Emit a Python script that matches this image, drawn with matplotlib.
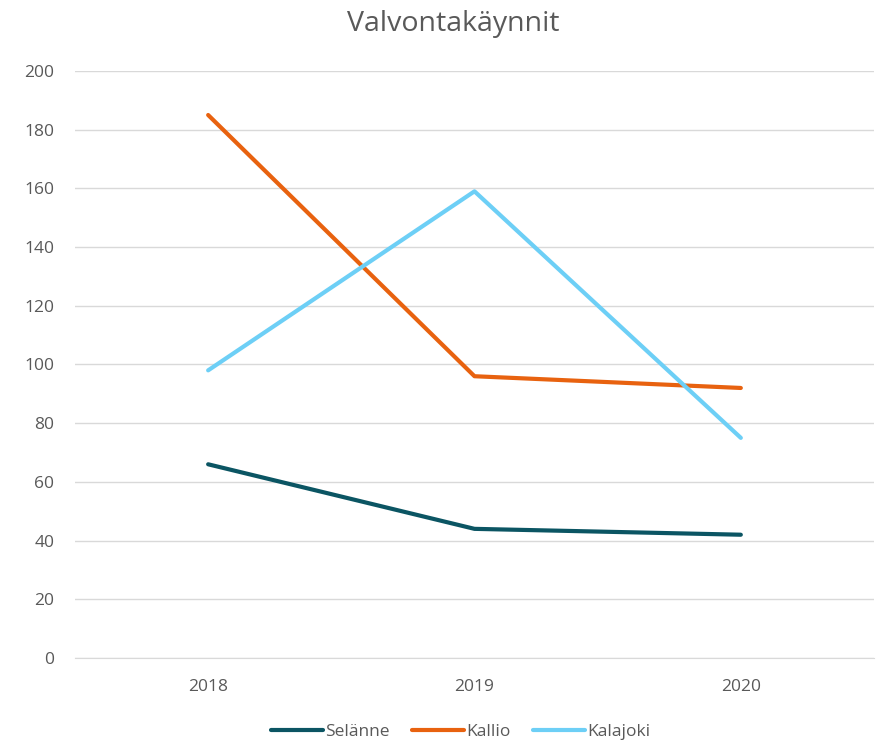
import matplotlib.pyplot as plt

plt.rcParams['font.family'] = ['Open Sans', 'DejaVu Sans']

years = ['2018', '2019', '2020']
selanne = [66, 44, 42]
kallio = [185, 96, 92]
kalajoki = [98, 159, 75]

fig = plt.figure(figsize=(8.79, 7.44), dpi=100)
ax = fig.add_axes([0.0853, 0.1156, 0.909, 0.789])

x = range(len(years))
ax.plot(x, selanne, color='#0b5563', lw=3, label='Selänne', solid_capstyle='round')
ax.plot(x, kallio, color='#e8620f', lw=3, label='Kallio', solid_capstyle='round')
ax.plot(x, kalajoki, color='#6dcff6', lw=3, label='Kalajoki', solid_capstyle='round')

ax.set_xlim(-0.5, 2.5)
ax.set_ylim(0, 200)
ax.set_yticks(range(0, 201, 20))
ax.set_xticks(list(x))
ax.set_xticklabels(years)
ax.grid(axis='y', color='#d9d9d9', lw=1)
ax.set_axisbelow(True)
for s in ['top', 'right', 'left']:
    ax.spines[s].set_visible(False)
ax.spines['bottom'].set_color('#d9d9d9')
ax.tick_params(length=0, labelsize=12.5, colors='#595959')
ax.tick_params(axis='x', pad=15)
ax.tick_params(axis='y', pad=15)

fig.text(0.516, 0.968, 'Valvontakäynnit', ha='center', va='center', fontsize=20.5, color='#595959')
fig.legend(loc='center', bbox_to_anchor=(0.524, 0.016), ncol=3, frameon=False,
           fontsize=12.5, handlelength=3, handletextpad=0.1, columnspacing=1.3,
           labelcolor='#595959')

fig.savefig('out.png', dpi=100)
